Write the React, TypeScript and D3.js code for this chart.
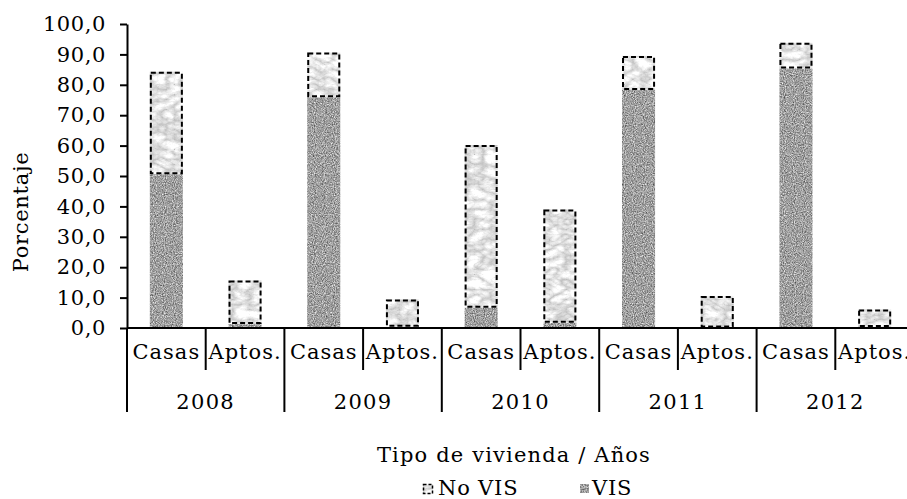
import React, { useRef, useEffect } from 'react';
import * as d3 from 'd3';

const years = ['2008', '2009', '2010', '2011', '2012'];
const types = ['Casas', 'Aptos.'];
// VIS share and No VIS share per (year, type), in the order 2008 Casas, 2008 Aptos., ...
const visValues = [50.6, 1.3, 75.9, 0.4, 6.7, 1.7, 78.3, 0.2, 85.4, 0.3];
const noVisValues = [33.7, 14.3, 14.7, 9.0, 53.5, 37.3, 11.2, 10.3, 8.4, 5.8];
const yTicks = [0, 10, 20, 30, 40, 50, 60, 70, 80, 90, 100];
const legendLabels = ['No VIS', 'VIS'];

const FONT = '"DejaVu Serif", serif';

export default function App() {
  const svgRef = useRef<SVGSVGElement>(null);

  useEffect(() => {
    const width = 907;
    const height = 499;
    const marginLeft = 127;
    const marginTop = 24;
    const plotBottom = 328;
    const plotRight = 914;

    const rows = years.flatMap((yr, i) =>
      types.map((t, j) => ({
        key: `${yr}-${t}`,
        year: yr,
        type: t,
        vis: visValues[i * 2 + j],
        noVis: noVisValues[i * 2 + j]
      }))
    );

    const x = d3.scaleBand()
      .domain(rows.map(d => d.key))
      .range([marginLeft, plotRight])
      .paddingInner(0.58)
      .paddingOuter(0.29);

    const step = x.step();

    const y = d3.scaleLinear()
      .domain([0, 100])
      .range([plotBottom, marginTop]);

    const fmt = (v: number) => d3.format('.1f')(v).replace('.', ',');

    const svg = d3.select(svgRef.current);
    svg.selectAll('*').remove();
    svg.attr('width', width).attr('height', height)
      .attr('viewBox', [0, 0, width, height])
      .style('font-family', FONT);

    const defs = svg.append('defs');

    // granite-like grey speckle for VIS
    const granite = defs.append('filter').attr('id', 'granite')
      .attr('x', 0).attr('y', 0).attr('width', 1).attr('height', 1)
      .attr('color-interpolation-filters', 'sRGB');
    granite.append('feTurbulence')
      .attr('type', 'fractalNoise').attr('baseFrequency', 0.9)
      .attr('numOctaves', 2).attr('seed', 3).attr('result', 'noise');
    granite.append('feColorMatrix').attr('in', 'noise').attr('type', 'matrix')
      .attr('values', '0.85 0 0 0 0.2  0.85 0 0 0 0.2  0.85 0 0 0 0.2  0 0 0 0 1')
      .attr('result', 'grey');
    granite.append('feComposite').attr('in', 'grey').attr('in2', 'SourceGraphic').attr('operator', 'in');

    // light marble for No VIS
    const marble = defs.append('filter').attr('id', 'marble')
      .attr('x', 0).attr('y', 0).attr('width', 1).attr('height', 1)
      .attr('color-interpolation-filters', 'sRGB');
    marble.append('feTurbulence')
      .attr('type', 'turbulence').attr('baseFrequency', '0.06 0.1')
      .attr('numOctaves', 4).attr('seed', 7).attr('result', 'noise');
    marble.append('feColorMatrix').attr('in', 'noise').attr('type', 'matrix')
      .attr('values', '0.5 0 0 0 0.74  0.5 0 0 0 0.74  0.5 0 0 0 0.74  0 0 0 0 1')
      .attr('result', 'grey');
    marble.append('feComposite').attr('in', 'grey').attr('in2', 'SourceGraphic').attr('operator', 'in');

    // VIS bars
    svg.append('g')
      .selectAll('rect')
      .data(rows)
      .join('rect')
      .attr('x', d => x(d.key)!)
      .attr('y', d => y(d.vis))
      .attr('width', x.bandwidth())
      .attr('height', d => y(0) - y(d.vis))
      .attr('fill', '#999')
      .attr('filter', 'url(#granite)');

    // No VIS bars, stacked on top
    svg.append('g')
      .selectAll('rect')
      .data(rows)
      .join('rect')
      .attr('x', d => x(d.key)!)
      .attr('y', d => y(d.vis + d.noVis))
      .attr('width', x.bandwidth())
      .attr('height', d => y(d.vis) - y(d.vis + d.noVis))
      .attr('fill', '#ddd')
      .attr('filter', 'url(#marble)');

    svg.append('g')
      .selectAll('rect')
      .data(rows)
      .join('rect')
      .attr('x', d => x(d.key)! + 1)
      .attr('y', d => y(d.vis + d.noVis) + 1)
      .attr('width', x.bandwidth() - 2)
      .attr('height', d => y(d.vis) - y(d.vis + d.noVis) - 2)
      .attr('fill', 'none')
      .attr('stroke', '#000')
      .attr('stroke-width', 2)
      .attr('stroke-dasharray', '5,3');

    // Y axis
    const yAxis = svg.append('g')
      .attr('transform', `translate(${marginLeft},0)`)
      .call(d3.axisLeft(y).tickValues(yTicks).tickFormat(d => fmt(+d)).tickSize(7).tickSizeOuter(0).tickPadding(14));
    yAxis.select('.domain').attr('stroke-width', 2);
    yAxis.selectAll('.tick line').attr('stroke-width', 2);
    yAxis.selectAll('text')
      .attr('font-size', 21).attr('font-family', FONT)
      .attr('letter-spacing', 0.6).attr('fill', '#000');

    // X axis line
    svg.append('line')
      .attr('x1', marginLeft).attr('x2', width)
      .attr('y1', plotBottom).attr('y2', plotBottom)
      .attr('stroke', '#000').attr('stroke-width', 2);

    // separators: inner (type) and year
    const bounds = d3.range(rows.length + 1).map(i => marginLeft + i * step);
    svg.append('g')
      .selectAll('line')
      .data(bounds)
      .join('line')
      .attr('x1', d => d).attr('x2', d => d)
      .attr('y1', plotBottom)
      .attr('y2', (d, i) => (i % 2 === 0 ? 412 : 370))
      .attr('stroke', '#000').attr('stroke-width', 2);

    // category labels
    svg.append('g')
      .selectAll('text')
      .data(rows)
      .join('text')
      .attr('x', d => x(d.key)! + x.bandwidth() / 2)
      .attr('y', 359)
      .attr('text-anchor', 'middle')
      .attr('font-size', 21)
      .attr('letter-spacing', 1.0)
      .text(d => d.type);

    // year labels
    svg.append('g')
      .selectAll('text')
      .data(years)
      .join('text')
      .attr('x', (d, i) => marginLeft + (i * 2 + 1) * step)
      .attr('y', 409)
      .attr('text-anchor', 'middle')
      .attr('font-size', 21)
      .attr('letter-spacing', 1.3)
      .text(d => d);

    // axis titles
    svg.append('text')
      .attr('transform', `translate(28,212) rotate(-90)`)
      .attr('text-anchor', 'middle')
      .attr('font-size', 21)
      .attr('letter-spacing', 0.7)
      .text('Porcentaje');

    svg.append('text')
      .attr('x', 514)
      .attr('y', 462)
      .attr('text-anchor', 'middle')
      .attr('font-size', 21)
      .attr('letter-spacing', 1.15)
      .text('Tipo de vivienda / Años');

    // legend
    const legend = svg.append('g');
    const legendX = [423, 580];
    legendLabels.forEach((lab, i) => {
      const g = legend.append('g').attr('transform', `translate(${legendX[i]},484)`);
      if (i === 0) {
        g.append('rect').attr('width', 10).attr('height', 10)
          .attr('fill', '#ddd').attr('filter', 'url(#marble)');
        g.append('rect').attr('x', 0.5).attr('y', 0.5).attr('width', 9).attr('height', 9)
          .attr('fill', 'none').attr('stroke', '#000').attr('stroke-width', 1.5)
          .attr('stroke-dasharray', '3,2');
      } else {
        g.append('rect').attr('width', 9).attr('height', 9)
          .attr('fill', '#999').attr('filter', 'url(#granite)');
      }
      g.append('text')
        .attr('x', i === 0 ? 15 : 12)
        .attr('y', 11)
        .attr('font-size', 21)
        .attr('letter-spacing', 0.8)
        .text(lab);
    });
  }, []);

  return (
    <div style={{ position: 'absolute', left: 0, top: 0, background: '#fff' }}>
      <svg ref={svgRef}></svg>
    </div>
  );
}
